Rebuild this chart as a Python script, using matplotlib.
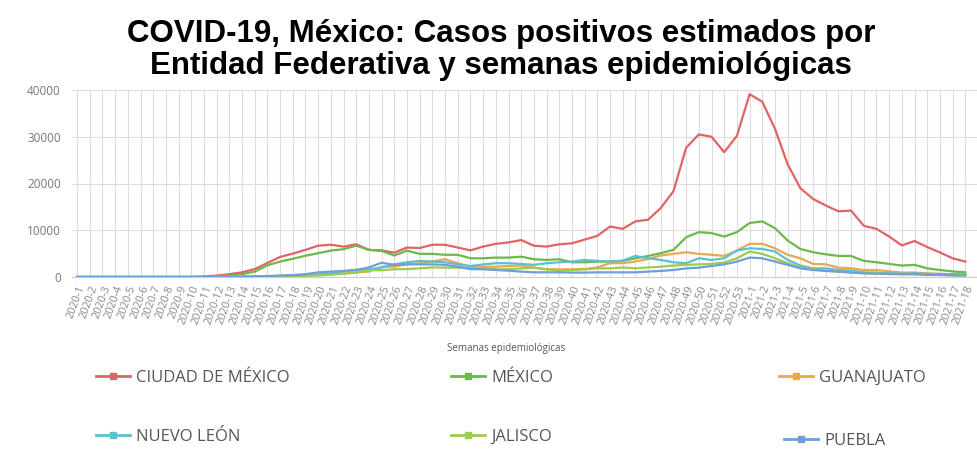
import matplotlib
matplotlib.use("Agg")
import matplotlib.pyplot as plt
from matplotlib.lines import Line2D
import numpy as np

# semanas epidemiológicas: 2020-1 .. 2020-53, 2021-1 .. 2021-18
semanas = [f"2020-{i}" for i in range(1, 54)] + [f"2021-{i}" for i in range(1, 19)]

estados = ["CIUDAD DE MÉXICO", "MÉXICO", "GUANAJUATO", "NUEVO LEÓN", "JALISCO", "PUEBLA"]
colores = ["#e06464", "#6cb84c", "#e8a852", "#5cc0cf", "#9ccc4e", "#6e9fdc"]

cdmx = [0, 0, 0, 0, 0, 0, 0, 0, 0, 0,
        100, 300, 600, 1000, 1700, 3000, 4300, 5000, 5800, 6700,
        6900, 6500, 7000, 5800, 5700, 5200, 6300, 6200, 6900, 6900,
        6300, 5700, 6500, 7100, 7400, 7900, 6700, 6500, 7000, 7200,
        8000, 8800, 10800, 10300, 11900, 12250, 14750, 18350, 27650, 30500,
        30000, 26700, 30200, 39100, 37500, 31700, 24100, 19000, 16700, 15300,
        14050, 14200, 10950, 10300, 8650, 6750, 7700, 6400, 5250, 4000,
        3300]

edomex = [0, 0, 0, 0, 0, 0, 0, 0, 0, 0,
          50, 150, 300, 600, 1150, 2500, 3300, 3900, 4550, 5100,
          5650, 5950, 6700, 5800, 5600, 4600, 5650, 4950, 4950, 4750,
          4750, 4000, 4000, 4150, 4150, 4350, 3800, 3650, 3800, 3150,
          3150, 3300, 3300, 3450, 4000, 4500, 5100, 5800, 8500, 9600,
          9400, 8650, 9600, 11550, 11900, 10450, 7800, 6000, 5300, 4850,
          4500, 4500, 3450, 3150, 2800, 2450, 2600, 1850, 1500, 1200,
          1000]

guanajuato = [0, 0, 0, 0, 0, 0, 0, 0, 0, 0,
              0, 0, 20, 40, 80, 150, 250, 350, 450, 500,
              600, 800, 1000, 1150, 2200, 2200, 2700, 2950, 3300, 3800,
              2950, 2200, 2200, 2200, 2350, 2450, 2000, 1650, 1650, 1650,
              1700, 2050, 2950, 2950, 3300, 3850, 4600, 4950, 5300, 4950,
              4750, 4500, 5650, 7100, 7100, 6150, 4750, 4000, 2800, 2700,
              2000, 1850, 1500, 1500, 1200, 950, 950, 800, 650, 600,
              450]

nuevo_leon = [0, 0, 0, 0, 0, 0, 0, 0, 0, 0,
              0, 0, 20, 50, 100, 150, 200, 300, 400, 500,
              800, 1200, 1550, 1650, 2000, 2700, 3150, 3450, 3300, 3150,
              2700, 2350, 2700, 2950, 2950, 2800, 2600, 2950, 3150, 3300,
              3650, 3450, 3300, 3500, 4500, 4000, 3650, 3150, 2950, 4000,
              3650, 4000, 5650, 6150, 6000, 5450, 3650, 2450, 1850, 1850,
              1500, 1350, 1000, 950, 800, 700, 800, 650, 650, 600,
              600]

jalisco = [0, 0, 0, 0, 0, 0, 0, 0, 0, 0,
           0, 0, 10, 30, 50, 80, 120, 180, 250, 300,
           500, 700, 950, 1500, 1450, 1650, 1700, 1850, 2050, 2000,
           2000, 1850, 1850, 1650, 1650, 1850, 2000, 1650, 1350, 1500,
           1650, 1850, 1850, 2050, 1850, 2050, 2200, 2450, 2600, 2700,
           2800, 3100, 4000, 5450, 4950, 4000, 2950, 2050, 1650, 1350,
           1150, 1000, 800, 800, 650, 600, 600, 500, 450, 350,
           350]

puebla = [0, 0, 0, 0, 0, 0, 0, 0, 0, 0,
          0, 0, 20, 50, 100, 200, 300, 400, 600, 1000,
          1150, 1300, 1500, 2050, 3050, 2600, 2700, 2700, 2700, 2600,
          2200, 1700, 1650, 1500, 1350, 1150, 1000, 1000, 1000, 950,
          950, 1000, 1000, 1000, 1000, 1150, 1300, 1500, 1850, 2000,
          2350, 2700, 3300, 4150, 4000, 3300, 2600, 1850, 1500, 1300,
          1150, 950, 800, 700, 650, 600, 600, 450, 450, 350,
          350]

series = [cdmx, edomex, guanajuato, nuevo_leon, jalisco, puebla]

fig = plt.figure(figsize=(9.78, 4.59), dpi=100)
ax = fig.add_axes([72 / 978, 1 - 277 / 459, 906 / 978, 187 / 459])

x = np.arange(len(semanas))
for valores, color in zip(series, colores):
    ax.plot(x, valores, color=color, linewidth=1.6, solid_joinstyle="round", zorder=3)

ax.set_xlim(-0.4, 71.0)
ax.set_ylim(0, 40000)
ax.set_yticks([0, 10000, 20000, 30000, 40000])
ax.set_yticklabels(["0", "10000", "20000", "30000", "40000"],
                   fontsize=8.5, color="#777777", family="Open Sans")
ax.set_xticks(x)
ax.set_xticklabels(semanas, rotation=70, ha="right", rotation_mode="anchor",
                   fontsize=7.8, color="#888888", family="Open Sans")
ax.tick_params(axis="y", length=0, pad=8)
ax.tick_params(axis="x", length=0, pad=5)

ax.grid(True, color="#dddddd", linewidth=0.8, zorder=0)
for lado in ["top", "right", "left"]:
    ax.spines[lado].set_visible(False)
ax.spines["bottom"].set_color("#cccccc")

fig.text(0.517, 1 - 348 / 459, "Semanas epidemiológicas", ha="center", va="center",
         fontsize=7, color="#555555", family="Open Sans")

fig.text(0.512, 1 - 50 / 459, "COVID-19, México: Casos positivos estimados por\nEntidad Federativa y semanas epidemiológicas",
         ha="center", va="center", fontsize=22.5, fontweight="bold",
         family="Liberation Sans", linespacing=1.12)

# leyenda: una entrada por estado, en 3 columnas y 2 filas
pos_leyenda = [(88, 378), (443, 378), (771, 378),
               (88, 437), (443, 437), (776, 441)]
for nombre, color, (px, py) in zip(estados, colores, pos_leyenda):
    h = Line2D([], [], color=color, linewidth=2, marker="s", markersize=5)
    leg = fig.legend(handles=[h], labels=[nombre], loc="center left",
                     bbox_to_anchor=(px / 978, 1 - py / 459), frameon=False,
                     handlelength=2.0, handletextpad=0.4, borderpad=0,
                     prop={"family": "Open Sans", "size": 12})
    for t in leg.get_texts():
        t.set_color("#555555")

fig.savefig("out.png", dpi=100)
